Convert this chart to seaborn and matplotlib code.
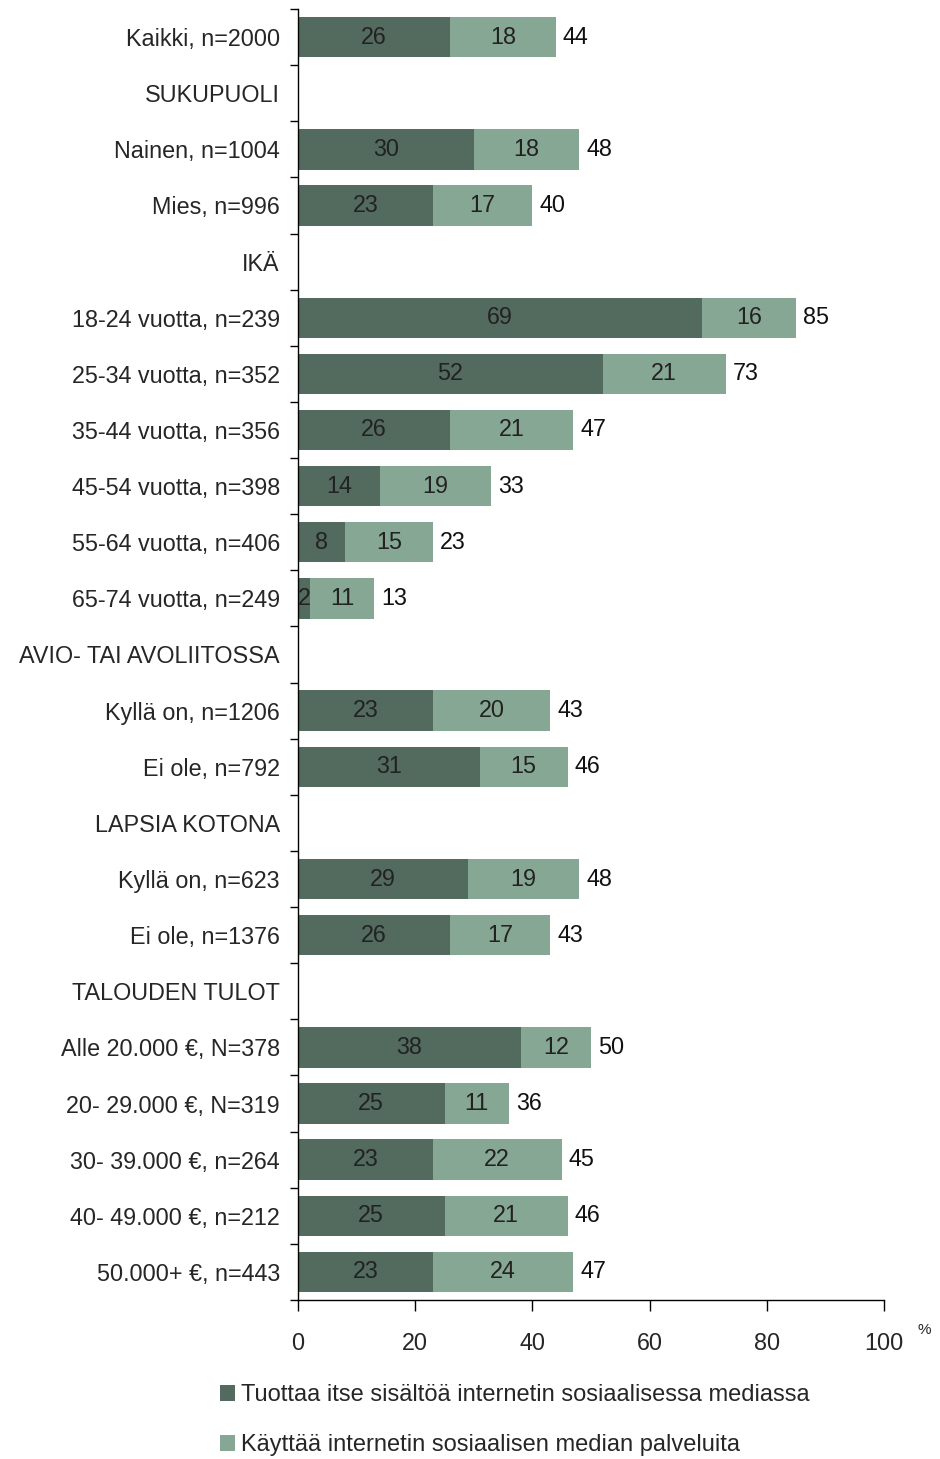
import numpy as np
import pandas as pd
import matplotlib
matplotlib.use("Agg")
import matplotlib.pyplot as plt
import seaborn as sns
from matplotlib.patches import Patch

sns.set_style("white")
plt.rcParams['font.family'] = ['Liberation Sans', 'DejaVu Sans']

categories = [
    "Kaikki, n=2000", "SUKUPUOLI", "Nainen, n=1004", "Mies, n=996", "IKÄ",
    "18-24 vuotta, n=239", "25-34 vuotta, n=352", "35-44 vuotta, n=356",
    "45-54 vuotta, n=398", "55-64 vuotta, n=406", "65-74 vuotta, n=249",
    "AVIO- TAI AVOLIITOSSA", "Kyllä on, n=1206", "Ei ole, n=792",
    "LAPSIA KOTONA", "Kyllä on, n=623", "Ei ole, n=1376",
    "TALOUDEN TULOT", "Alle 20.000 €, N=378", "20- 29.000 €, N=319",
    "30- 39.000 €, n=264", "40- 49.000 €, n=212", "50.000+ €, n=443",
]
produces = [26, np.nan, 30, 23, np.nan, 69, 52, 26, 14, 8, 2, np.nan, 23, 31,
            np.nan, 29, 26, np.nan, 38, 25, 23, 25, 23]
uses = [18, np.nan, 18, 17, np.nan, 16, 21, 21, 19, 15, 11, np.nan, 20, 15,
        np.nan, 19, 17, np.nan, 12, 11, 22, 21, 24]
totals = [44, np.nan, 48, 40, np.nan, 85, 73, 47, 33, 23, 13, np.nan, 43, 46,
          np.nan, 48, 43, np.nan, 50, 36, 45, 46, 47]
series_names = ["Tuottaa itse sisältöä internetin sosiaalisessa mediassa",
                "Käyttää internetin sosiaalisen median palveluita"]
xticks = [0, 20, 40, 60, 80, 100]

dark = "#536a5f"
light = "#87a795"

df = pd.DataFrame({"cat": categories, "v1": produces, "v2": uses, "tot": totals})
df["stack"] = df["v1"] + df["v2"]

fig = plt.figure(figsize=(9.4, 14.59), dpi=100)
ax = fig.add_axes([298/940, 1 - 1300/1459, (884-298)/940, (1300-9)/1459])

sns.barplot(data=df, y="cat", x="stack", order=categories, color=light,
            saturation=1, width=0.72, orient="h", ax=ax, errorbar=None, linewidth=0)
sns.barplot(data=df, y="cat", x="v1", order=categories, color=dark,
            saturation=1, width=0.72, orient="h", ax=ax, errorbar=None, linewidth=0)

fs = 16.8
for i, r in df.iterrows():
    if np.isnan(r.v1):
        continue
    ax.text(r.v1 / 2, i, f"{int(r.v1)}", ha="center", va="center", fontsize=fs, color="#222222")
    ax.text(r.v1 + r.v2 / 2, i, f"{int(r.v2)}", ha="center", va="center", fontsize=fs, color="#222222")
    ax.text(r.stack + 1.2, i, f"{int(r.tot)}", ha="left", va="center", fontsize=fs, color="#111111")

ax.set_xlim(0, 100)
ax.set_ylim(len(categories) - 0.5, -0.5)
ax.set_xticks(xticks)
ax.set_xticklabels([str(t) for t in xticks], fontsize=fs)
ax.set_yticks(range(len(categories)))
ax.set_yticklabels(categories, fontsize=fs)
ax.set_yticks(np.arange(-0.5, len(categories), 1), minor=True)
ax.tick_params(axis="y", which="major", length=0, pad=13)
ax.tick_params(axis="y", which="minor", length=6, width=1, color="black", direction="out", left=True)
ax.tick_params(axis="x", which="major", length=8, width=1, color="black", direction="out", bottom=True, pad=15)
ax.set_xlabel("")
ax.set_ylabel("")
for s in ["top", "right"]:
    ax.spines[s].set_visible(False)
for s in ["left", "bottom"]:
    ax.spines[s].set_color("black")
    ax.spines[s].set_linewidth(1)

fig.text(918/940, 1 - 1330/1459, "%", fontsize=11, ha="left", va="center")

handles = [Patch(facecolor=dark, edgecolor="none"), Patch(facecolor=light, edgecolor="none")]
fig.legend(handles, series_names, loc="upper left", bbox_to_anchor=(220/940, 1 - 1384/1459),
           frameon=False, fontsize=17, handlelength=0.65, handleheight=0.65, handletextpad=0.25,
           labelspacing=1.2, borderaxespad=0, borderpad=0)

fig.savefig("out.png", dpi=100)
